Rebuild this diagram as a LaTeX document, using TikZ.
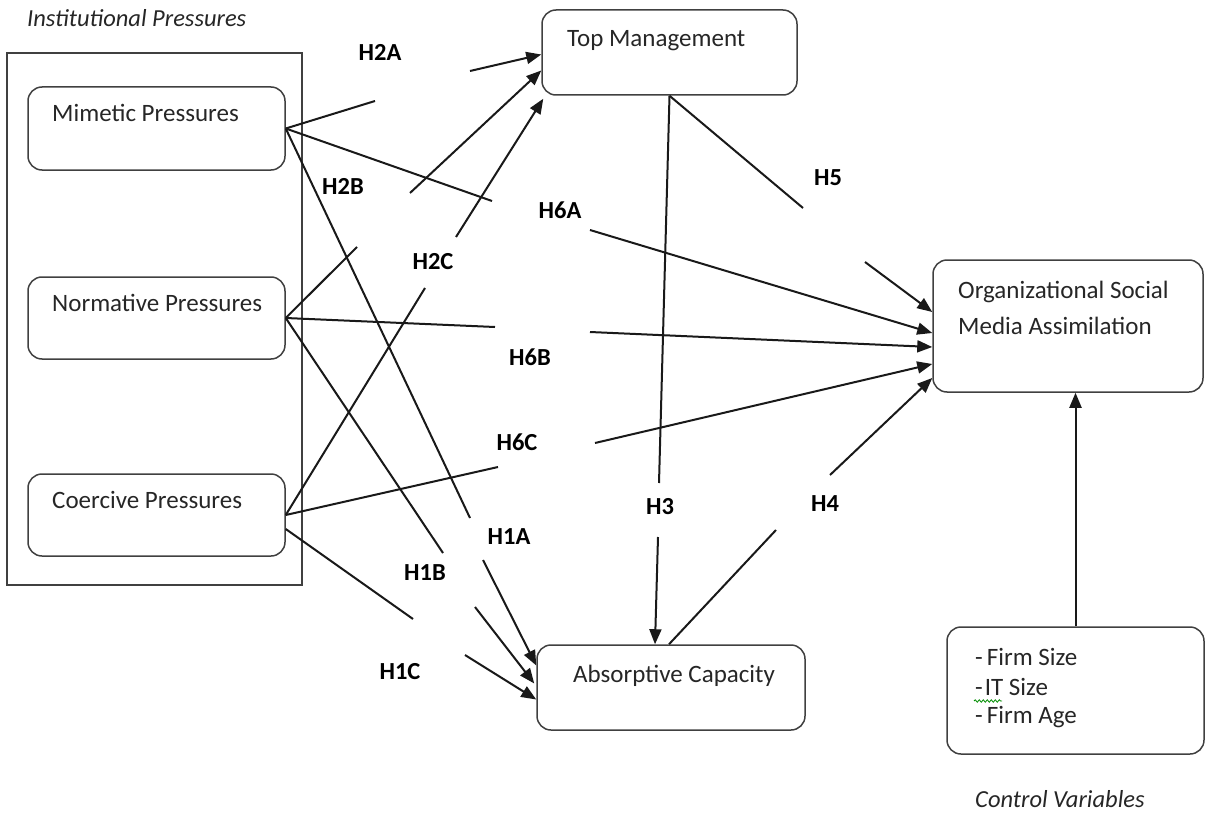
\documentclass[tikz,border=0pt]{standalone}
\usepackage{fontspec}
\setmainfont{Carlito}
\usetikzlibrary{arrows.meta,calc,decorations.pathmorphing}
\begin{document}
\begin{tikzpicture}[x=1pt,y=-1pt,
  box/.style={draw=black!75, line width=1.5pt, rounded corners=14pt, inner sep=0pt},
  txt/.style={anchor=base west, inner sep=0pt, font=\fontsize{25}{30}\selectfont, text=black!85},
  hyp/.style={inner sep=0pt, font=\fontsize{24.5}{29}\selectfont\bfseries, text=black},
  ital/.style={anchor=base west, inner sep=0pt, font=\fontsize{24.5}{29}\selectfont\itshape, text=black!85},
  seg/.style={line width=2pt, draw=black!90},
  arr/.style={line width=2pt, draw=black!90, -{Triangle[length=15pt,width=12pt]}},
]
\useasboundingbox (0,0) rectangle (1207,824);

% outer group
\node[draw=black!75, line width=1.5pt, minimum width=295pt, minimum height=532pt, inner sep=0pt] (outer) at (154.5,319) {};
\node[ital] (instT) at (27,27) {Institutional Pressures};

% boxes
\node[box, minimum width=257pt, minimum height=83pt] (mim) at (156.5,128.5) {};
\node[box, minimum width=257pt, minimum height=82pt] (nor) at (156.5,318) {};
\node[box, minimum width=257pt, minimum height=82pt] (coe) at (156.5,515) {};
\node[box, minimum width=255pt, minimum height=85pt] (top) at (669.5,52.5) {};
\node[box, minimum width=270pt, minimum height=132pt] (osma) at (1068,326) {};
\node[box, minimum width=268pt, minimum height=85pt] (abs) at (671,687.5) {};
\node[box, minimum width=257pt, minimum height=127pt] (ctrl) at (1075.5,690.5) {};

% box texts
\node[txt] (mimT) at (52,121.5) {Mimetic Pressures};
\node[txt] (norT) at (52,311.5) {Normative Pressures};
\node[txt] (coeT) at (52,508.5) {Coercive Pressures};
\node[txt] (topT) at (567,47) {Top Management};
\node[txt] (osmaT1) at (958,298) {Organizational Social};
\node[txt] (osmaT2) at (958,334) {Media Assimilation};
\node[txt] (absT) at (573,682) {Absorptive Capacity};
\node[txt] (ctrlT1) at (975,665) {-\kern4pt Firm Size};
\node[txt] (ctrlT2) at (975,695) {-\kern2pt IT Size};
\node[txt] (ctrlT3) at (975,723) {-\kern4pt Firm Age};
\node[ital] (ctrlV) at (975,807) {Control Variables};
\draw[green!55!black, line width=0.8pt, decorate, decoration={snake, amplitude=1.2pt, segment length=4pt}] (974,701) -- (1002,701);

% hypothesis labels
\node[hyp] (lH2A) at (380,52) {H2A};
\node[hyp] (lH2B) at (343,186) {H2B};
\node[hyp] (lH2C) at (433,262) {H2C};
\node[hyp] (lH6A) at (560,210) {H6A};
\node[hyp] (lH5) at (828,178) {H5};
\node[hyp] (lH6B) at (530,357) {H6B};
\node[hyp] (lH6C) at (517,442) {H6C};
\node[hyp] (lH3) at (660,507) {H3};
\node[hyp] (lH4) at (825,504) {H4};
\node[hyp] (lH1A) at (509,537) {H1A};
\node[hyp] (lH1B) at (425,573) {H1B};
\node[hyp] (lH1C) at (400,672) {H1C};

% gap coordinates
\coordinate (a1) at (375,101);  \coordinate (a2) at (470,71);
\coordinate (b1) at (357,247);  \coordinate (b2) at (410,193);
\coordinate (c1) at (425,288);  \coordinate (c2) at (456,237);
\coordinate (d1) at (492,201);  \coordinate (d2) at (590,230);
\coordinate (e1) at (495,327);  \coordinate (e2) at (590,332);
\coordinate (f1) at (498,467);  \coordinate (f2) at (595,443);
\coordinate (g1) at (470,518);  \coordinate (g2) at (483,560);
\coordinate (h1) at (443,553);  \coordinate (h2) at (475,607);
\coordinate (i1) at (413,619);  \coordinate (i2) at (465,655);
\coordinate (j1) at (659,483);  \coordinate (j2) at (658,537);
\coordinate (k1) at (776,530);  \coordinate (k2) at (830,475);
\coordinate (l1) at (803,208);  \coordinate (l2) at (865,262);

% H2A, H2B, H2C
\draw[seg] (mim.east) -- (a1);
\draw[arr] (a2) -- ($(top.west)+(0,2)$);
\draw[seg] (nor.east) -- (b1);
\draw[arr] (b2) -- ($(top.west)+(0,18)$);
\draw[seg] (coe.east) -- (c1);
\draw[arr] (c2) -- ($(top.south west)+(2,3)$);
% H6A, H6B, H6C
\draw[seg] (mim.east) -- (d1);
\draw[arr] (d2) -- ($(osma.west)+(0,7)$);
\draw[seg] (nor.east) -- (e1);
\draw[arr] (e2) -- ($(osma.west)+(0,21)$);
\draw[seg] (coe.east) -- (f1);
\draw[arr] (f2) -- ($(osma.west)+(0,38)$);
% H1A, H1B, H1C
\draw[seg] (mim.east) -- (g1);
\draw[arr] (g2) -- ($(abs.west)+(0,-22)$);
\draw[seg] (nor.east) -- (h1);
\draw[arr] (h2) -- ($(abs.west)+(-2,-4)$);
\draw[seg] ($(coe.east)+(0,14)$) -- (i1);
\draw[arr] (i2) -- ($(abs.west)+(0,12)$);
% H3, H4, H5
\draw[seg] (top.south) -- (j1);
\draw[arr] (j2) -- ($(abs.north)+(-16,0)$);
\draw[seg] ($(abs.north)+(-2,0)$) -- (k1);
\draw[arr] (k2) -- ($(osma.west)+(0,52)$);
\draw[seg] (top.south) -- (l1);
\draw[arr] (l2) -- ($(osma.west)+(0,-14)$);
% control
\draw[arr] (ctrl.north) -- (ctrl.north |- osma.south);
\end{tikzpicture}
\end{document}
